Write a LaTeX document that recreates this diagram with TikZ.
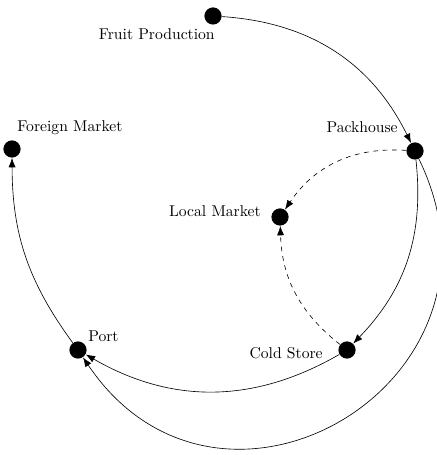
\documentclass[tikz,border=0pt]{standalone}
\usepackage{tikz}
\usetikzlibrary{arrows.meta}

\begin{document}
\begin{tikzpicture}[x=0.639pt, y=0.639pt,
    stage/.style={circle, fill=black, inner sep=0pt, minimum size=11pt},
    lbl/.style={inner sep=0pt},
    flow/.style={-{Latex[length=6pt,width=4.5pt]}}]
            \useasboundingbox (0,0) rectangle (436,455);

            % Nodes
            \node[stage] (fruit) at (213,439) {};
            \node[stage] (packhouse) at (415,304) {};
            \node[stage] (local_market) at (280,238) {};
            \node[stage] (cold_store) at (347,105) {};
            \node[stage] (port) at (78,105) {};
            \node[stage] (foreign_market) at (12,306) {};

            % Labels
            \node[lbl, anchor=base east] (fruit_text) at ([shift={(2,-24)}]fruit.center) {Fruit Production};
            \node[lbl, anchor=base east] (packhouse_text) at ([shift={(-17,18)}]packhouse.center) {Packhouse};
            \node[lbl, anchor=base east] (local_market_text) at ([shift={(-19,0)}]local_market.center) {Local Market};
            \node[lbl, anchor=base east] (cold_store_text) at ([shift={(-24,-9)}]cold_store.center) {Cold Store};
            \node[lbl, anchor=base west] (port_text) at ([shift={(10,8)}]port.center) {Port};
            \node[lbl, anchor=base west] (foreign_market_text) at ([shift={(5,17)}]foreign_market.center) {Foreign Market};

            % Arrows
            \draw[flow] (fruit) to[bend left=30] (packhouse);
            \draw[flow, dashed] (packhouse) to[bend right=30] (local_market);
            \draw[flow, dashed] (cold_store) to[bend left=25] (local_market);
            \draw[flow] (packhouse) to[bend left=25] (cold_store);
            \draw[flow] (cold_store) to[bend left=30] (port);
            \draw[flow] (packhouse) to[out=-64, in=-56, looseness=1.62] (port);
            \draw[flow] (port) to[bend left=18] (foreign_market);
\end{tikzpicture}
\end{document}
